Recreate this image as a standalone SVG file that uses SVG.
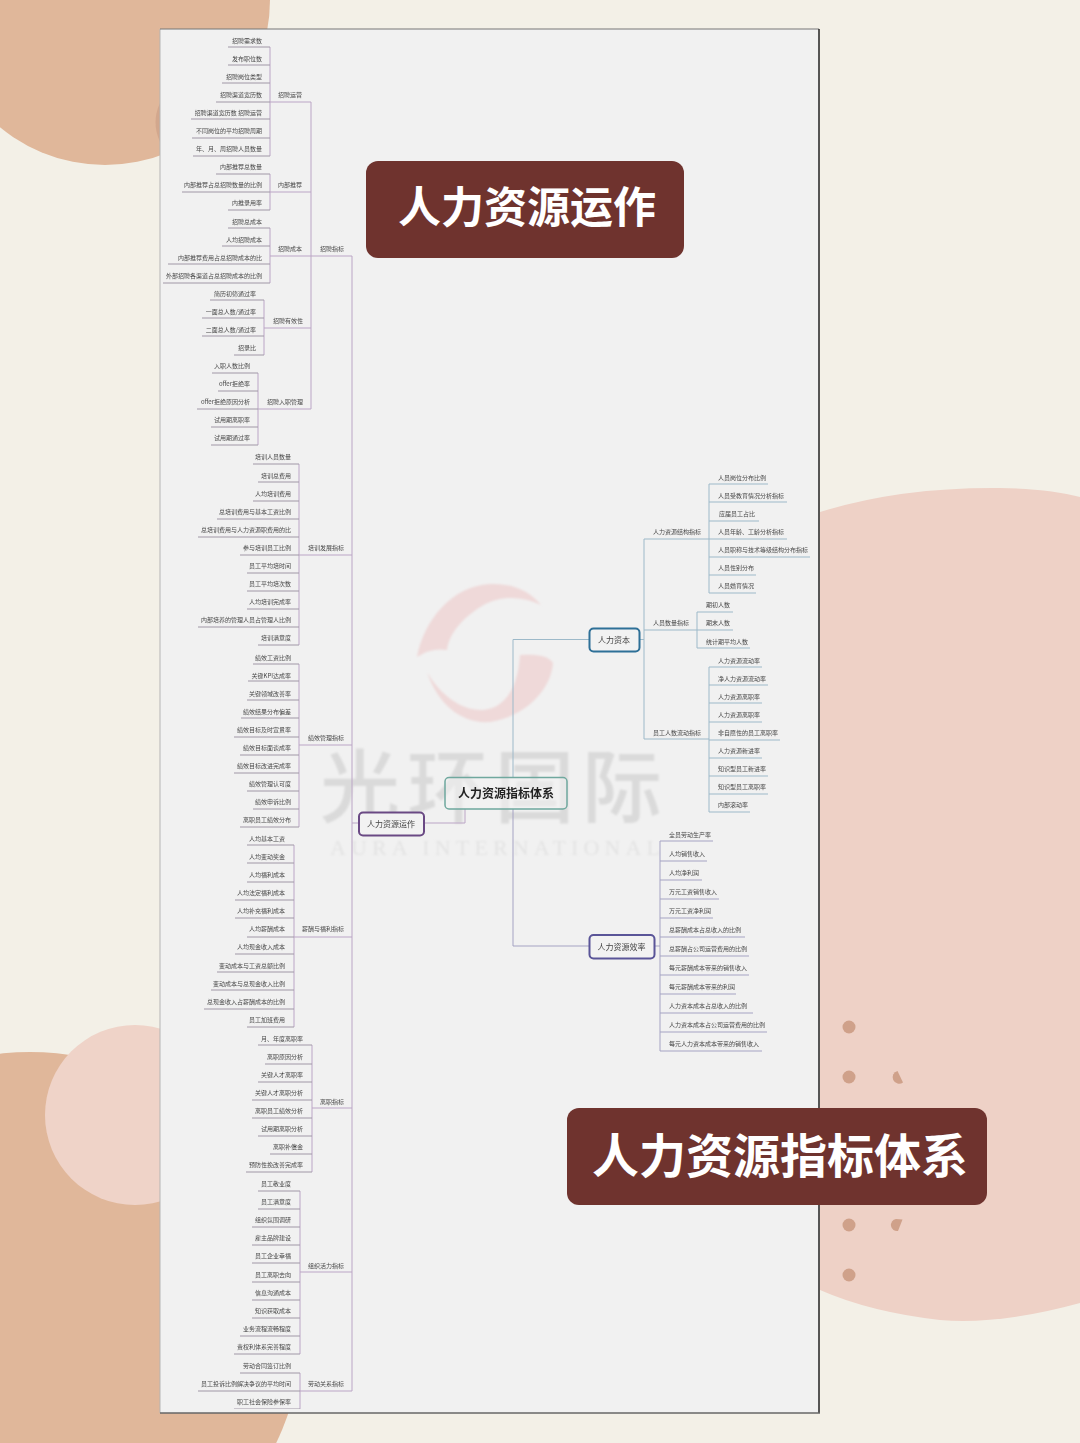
<svg xmlns="http://www.w3.org/2000/svg" width="1080" height="1443" viewBox="0 0 1080 1443">
<style>
text{font-family:"Noto Sans CJK SC","Noto Sans",sans-serif}
.l text{font-size:6px;fill:#484848}
.e{text-anchor:end}
.p{fill:none;stroke:#bba5c6;stroke-width:1}
.b{fill:none;stroke:#9db9c9;stroke-width:1}
.v{fill:none;stroke:#a5a3c3;stroke-width:1}
.u{fill:none;stroke:#a097a6;stroke-width:1}
.box{fill:#f2f2f2;stroke-width:2}
.t{font-size:8px;fill:#444;text-anchor:middle}
.card{fill:#6f332e}
.ct{fill:#fff;font-weight:700;text-anchor:middle}
.dot{fill:#cfa18a}
.wm{fill:#dadada;font-weight:500}
.logo{fill:#efd9d9}
</style>
<defs>
<filter id="soft" x="0" y="0" width="1" height="1"><feGaussianBlur stdDeviation="0.35"/></filter>
<filter id="wmblur" x="-0.05" y="-0.05" width="1.1" height="1.1"><feGaussianBlur stdDeviation="0.8"/></filter>
</defs>
<rect width="1080" height="1443" fill="#f3f0e7"/>
<circle cx="105" cy="0" r="165" fill="#e0b79a"/>
<path d="M160 103Q151 122 160 142Z" fill="#d2a78d"/>
<path d="M820 512Q900 487 1000 488Q1050 489 1080 497L1080 1303Q1000 1325 940 1320Q870 1312 820 1290Z" fill="#eed1c6"/>
<circle cx="30" cy="1325" r="273" fill="#e0b79a"/>
<circle cx="135" cy="1115" r="90" fill="#efd3c8"/>
<g id="dots">
<circle class="dot" cx="849" cy="1027" r="6.5"/><circle class="dot" cx="849" cy="1077" r="6.5"/><circle class="dot" cx="849" cy="1225" r="6.5"/><circle class="dot" cx="849" cy="1275" r="6.5"/>
<path class="dot" d="M897.5 1071L903 1082.5A6.5 6.5 0 1 1 897.500 1071Z"/><path class="dot" d="M902.500 1219.500L898 1231A6 6 0 0 1 896 1219Z"/>
</g>
<rect id="panel" x="160" y="29" width="659" height="1384" fill="#f1f1f1"/>
<path d="M160 1413V29" stroke="#b5b5b5" stroke-width="1" fill="none"/>
<path d="M160 29H819" stroke="#777" stroke-width="1" fill="none"/>
<path d="M819 29V1413" stroke="#222" stroke-width="1.500" fill="none"/>
<path d="M160 1413H820" stroke="#666" stroke-width="1.500" fill="none"/>
<g id="watermark" filter="url(#wmblur)">
<path class="logo" d="M417 657C424 620 452 586 490 584C512 583 530 591 541 605C522 596 500 595 482 606C462 618 449 634 447 650C436 648 426 651 417 657Z"/>
<path class="logo" d="M427 672C440 695 462 711 483 710C503 709 518 690 520 655C535 654 548 655 553 663C551 690 526 716 490 722C462 724 438 705 427 672Z"/>
<text class="wm" x="320" y="816" font-size="80" textLength="342">光环国际</text>
<text x="330" y="855" font-size="22" fill="#e3e3e3" textLength="330" style="font-family:'Liberation Serif',serif">AURA INTERNATIONAL</text>
</g>
<g filter="url(#soft)">
<g id="connectors">
<path class="p" d="M270 47V156M270 174V210M270 228V283M264 300V355M258 373V445M311 102V409M352 256V1391M299 464V645M299 664V827M294 845V1027M312 1045V1172M300 1191V1354M300 1373V1409"/>
<path class="p" d="M270 102H311M270 192H311M270 256H352M264 328H311M258 409H311M299 555H352M299 745H352M294 937H352M312 1108H352M300 1272H352M300 1391H352M352 823H359M424 823H465V809"/>
<path class="u" d="M228 47H270M228 65H270M222 83H270M216 102H270M191 119H270M192 138H270M193 156H270M216 174H270M182 192H270M228 210H270M228 228H270M222 246H270M168 264H270M163 283H270"/>
<path class="u" d="M210 300H264M202 318H264M202 336H264M234 355H264M212 373H258M218 391H258M197 409H258M211 427H258M211 445H258"/>
<path class="u" d="M253 464H299M258 482H299M253 501H299M217 519H299M198 537H299M240 555H299M247 573H299M247 591H299M247 609H299M198 627H299M258 645H299"/>
<path class="u" d="M253 664H299M248 681H299M247 700H299M241 718H299M234 737H299M240 755H299M234 773H299M247 791H299M253 809H299M240 827H299"/>
<path class="u" d="M247 845H294M247 863H294M247 882H294M235 900H294M235 918H294M247 937H294M235 954H294M217 972H294M211 990H294M204 1009H294M247 1027H294"/>
<path class="u" d="M258 1045H312M265 1064H312M258 1082H312M252 1100H312M252 1118H312M258 1136H312M270 1154H312M246 1172H312"/>
<path class="u" d="M258 1191H300M258 1209H300M252 1227H300M252 1245H300M252 1263H300M252 1282H300M252 1300H300M252 1318H300M240 1336H300M234 1354H300M240 1373H300M198 1391H300M234 1409H300"/>
<path class="b" d="M513 777V639.500H589M639 639.500H644M644 539V739M644 539H709M644 630H697M644 739H709M709 484V593M697 612V648M709 667V812"/>
<path class="b" d="M709 484H768M709 502H787M709 521H759M709 539H787M709 557H810M709 575H756M709 593H756M697 612H733M697 630H733M697 648H750M709 667H762M709 685H768M709 703H762M709 722H762M709 740H780M709 758H762M709 776H768M709 794H768M709 812H750"/>
<path class="v" d="M513 809V946H589M654 946H660M660 841V1051"/>
<path class="v" d="M660 841H713M660 861H707M660 880H702M660 899H719M660 918H713M660 937H745M660 956H749M660 975H749M660 994H736M660 1013H753M660 1032H767M660 1051H762"/>
</g>
<g class="l">
<g id="n1"><text class="e" x="262" y="43">招聘需求数</text></g>
<g id="n2"><text class="e" x="262" y="61">发布职位数</text></g>
<g id="n3"><text class="e" x="262" y="79">招聘岗位类型</text></g>
<g id="n4"><text class="e" x="262" y="97">招聘渠道宽历数</text></g>
<g id="n5"><text class="e" x="262" y="115">招聘渠道宽历数 招聘运营</text></g>
<g id="n6"><text class="e" x="262" y="133">不同岗位的平均招聘周期</text></g>
<g id="n7"><text class="e" x="262" y="151">年、月、周招聘人员数量</text></g>
<g id="n8"><text class="e" x="262" y="169">内部推荐总数量</text></g>
<g id="n9"><text class="e" x="262" y="187">内部推荐占总招聘数量的比例</text></g>
<g id="n10"><text class="e" x="262" y="205">内推录用率</text></g>
<g id="n11"><text class="e" x="262" y="224">招聘总成本</text></g>
<g id="n12"><text class="e" x="262" y="242">人均招聘成本</text></g>
<g id="n13"><text class="e" x="262" y="260">内部推荐费用占总招聘成本的比</text></g>
<g id="n14"><text class="e" x="262" y="278">外部招聘各渠道占总招聘成本的比例</text></g>
<g id="n15"><text x="278" y="97">招聘运营</text></g>
<g id="n16"><text x="278" y="187">内部推荐</text></g>
<g id="n17"><text x="278" y="251">招聘成本</text></g>
<g id="n18"><text x="320" y="251">招聘指标</text></g>
<g id="n19"><text class="e" x="256" y="296">简历初筛通过率</text></g>
<g id="n20"><text class="e" x="256" y="314">一面总人数/通过率</text></g>
<g id="n21"><text class="e" x="256" y="332">二面总人数/通过率</text></g>
<g id="n22"><text class="e" x="256" y="350">招录比</text></g>
<g id="n23"><text x="273" y="323">招聘有效性</text></g>
<g id="n24"><text class="e" x="250" y="368">入职人数比例</text></g>
<g id="n25"><text class="e" x="250" y="386">offer拒绝率</text></g>
<g id="n26"><text class="e" x="250" y="404">offer拒绝原因分析</text></g>
<g id="n27"><text class="e" x="250" y="422">试用期离职率</text></g>
<g id="n28"><text class="e" x="250" y="440">试用期通过率</text></g>
<g id="n29"><text x="267" y="404">招聘入职管理</text></g>
<g id="n30"><text class="e" x="291" y="459">培训人员数量</text></g>
<g id="n31"><text class="e" x="291" y="478">培训总费用</text></g>
<g id="n32"><text class="e" x="291" y="496">人均培训费用</text></g>
<g id="n33"><text class="e" x="291" y="514">总培训费用与基本工资比例</text></g>
<g id="n34"><text class="e" x="291" y="532">总培训费用与人力资源职费用的比</text></g>
<g id="n35"><text class="e" x="291" y="550">参与培训员工比例</text></g>
<g id="n36"><text class="e" x="291" y="568">员工平均培时间</text></g>
<g id="n37"><text class="e" x="291" y="586">员工平均培次数</text></g>
<g id="n38"><text class="e" x="291" y="604">人均培训完成率</text></g>
<g id="n39"><text class="e" x="291" y="622">内部培养的管理人员占管理人比例</text></g>
<g id="n40"><text class="e" x="291" y="640">培训满意度</text></g>
<g id="n41"><text x="308" y="550">培训发展指标</text></g>
<g id="n42"><text class="e" x="291" y="660">绩效工资比例</text></g>
<g id="n43"><text class="e" x="291" y="678">关键KPI达成率</text></g>
<g id="n44"><text class="e" x="291" y="696">关键领域改善率</text></g>
<g id="n45"><text class="e" x="291" y="714">绩效结果分布偏差</text></g>
<g id="n46"><text class="e" x="291" y="732">绩效目标及时宣贯率</text></g>
<g id="n47"><text class="e" x="291" y="750">绩效目标面谈成率</text></g>
<g id="n48"><text class="e" x="291" y="768">绩效目标改进完成率</text></g>
<g id="n49"><text class="e" x="291" y="786">绩效管理认可度</text></g>
<g id="n50"><text class="e" x="291" y="804">绩效申诉比例</text></g>
<g id="n51"><text class="e" x="291" y="822">离职员工绩效分布</text></g>
<g id="n52"><text x="308" y="740">绩效管理指标</text></g>
<g id="n53"><text class="e" x="285" y="841">人均基本工资</text></g>
<g id="n54"><text class="e" x="285" y="859">人均变动奖金</text></g>
<g id="n55"><text class="e" x="285" y="877">人均福利成本</text></g>
<g id="n56"><text class="e" x="285" y="895">人均法定福利成本</text></g>
<g id="n57"><text class="e" x="285" y="913">人均补充福利成本</text></g>
<g id="n58"><text class="e" x="285" y="931">人均薪酬成本</text></g>
<g id="n59"><text class="e" x="285" y="949">人均现金收入成本</text></g>
<g id="n60"><text class="e" x="285" y="968">变动成本与工资总额比例</text></g>
<g id="n61"><text class="e" x="285" y="986">变动成本与总现金收入比例</text></g>
<g id="n62"><text class="e" x="285" y="1004">总现金收入占薪酬成本的比例</text></g>
<g id="n63"><text class="e" x="285" y="1022">员工加班费用</text></g>
<g id="n64"><text x="302" y="931">薪酬与福利指标</text></g>
<g id="n65"><text class="e" x="303" y="1041">月、年度离职率</text></g>
<g id="n66"><text class="e" x="303" y="1059">离职原因分析</text></g>
<g id="n67"><text class="e" x="303" y="1077">关键人才离职率</text></g>
<g id="n68"><text class="e" x="303" y="1095">关键人才离职分析</text></g>
<g id="n69"><text class="e" x="303" y="1113">离职员工绩效分析</text></g>
<g id="n70"><text class="e" x="303" y="1131">试用期离职分析</text></g>
<g id="n71"><text class="e" x="303" y="1149">离职补偿金</text></g>
<g id="n72"><text class="e" x="303" y="1167">预防性挽改善完成率</text></g>
<g id="n73"><text x="320" y="1104">离职指标</text></g>
<g id="n74"><text class="e" x="291" y="1186">员工敬业度</text></g>
<g id="n75"><text class="e" x="291" y="1204">员工满意度</text></g>
<g id="n76"><text class="e" x="291" y="1222">组织氛围调研</text></g>
<g id="n77"><text class="e" x="291" y="1240">雇主品牌建设</text></g>
<g id="n78"><text class="e" x="291" y="1258">员工企业幸福</text></g>
<g id="n79"><text class="e" x="291" y="1277">员工离职去向</text></g>
<g id="n80"><text class="e" x="291" y="1295">信息沟通成本</text></g>
<g id="n81"><text class="e" x="291" y="1313">知识获取成本</text></g>
<g id="n82"><text class="e" x="291" y="1331">业务流程流畅程度</text></g>
<g id="n83"><text class="e" x="291" y="1349">责权利体系完善程度</text></g>
<g id="n84"><text x="308" y="1268">组织活力指标</text></g>
<g id="n85"><text class="e" x="291" y="1368">劳动合同签订比例</text></g>
<g id="n86"><text class="e" x="291" y="1386">员工投诉比例解决争议的平均时间</text></g>
<g id="n87"><text class="e" x="291" y="1404">职工社会保险参保率</text></g>
<g id="n88"><text x="308" y="1386">劳动关系指标</text></g>
<g id="n89"><text x="718" y="480">人员岗位分布比例</text></g>
<g id="n90"><text x="718" y="498">人员受教育情况分析指标</text></g>
<g id="n91"><text x="719" y="516">应届员工占比</text></g>
<g id="n92"><text x="718" y="534">人员年龄、工龄分析指标</text></g>
<g id="n93"><text x="718" y="552">人员职称与技术等级结构分布指标</text></g>
<g id="n94"><text x="718" y="570">人员性别分布</text></g>
<g id="n95"><text x="718" y="588">人员婚育情况</text></g>
<g id="n96"><text x="653" y="534">人力资源结构指标</text></g>
<g id="n97"><text x="706" y="607">期初人数</text></g>
<g id="n98"><text x="706" y="625">期末人数</text></g>
<g id="n99"><text x="706" y="644">统计期平均人数</text></g>
<g id="n100"><text x="653" y="625">人员数量指标</text></g>
<g id="n101"><text x="718" y="663">人力资源流动率</text></g>
<g id="n102"><text x="718" y="681">净人力资源流动率</text></g>
<g id="n103"><text x="718" y="699">人力资源离职率</text></g>
<g id="n104"><text x="718" y="717">人力资源离职率</text></g>
<g id="n105"><text x="718" y="735">非自愿性的员工离职率</text></g>
<g id="n106"><text x="718" y="753">人力资源新进率</text></g>
<g id="n107"><text x="718" y="771">知识型员工新进率</text></g>
<g id="n108"><text x="718" y="789">知识型员工离职率</text></g>
<g id="n109"><text x="718" y="807">内部滚动率</text></g>
<g id="n110"><text x="653" y="735">员工人数流动指标</text></g>
<g id="n111"><text x="669" y="837">全员劳动生产率</text></g>
<g id="n112"><text x="669" y="856">人均销售收入</text></g>
<g id="n113"><text x="669" y="875">人均净利润</text></g>
<g id="n114"><text x="669" y="894">万元工资销售收入</text></g>
<g id="n115"><text x="669" y="913">万元工资净利润</text></g>
<g id="n116"><text x="669" y="932">总薪酬成本占总收入的比例</text></g>
<g id="n117"><text x="669" y="951">总薪酬占公司运营费用的比例</text></g>
<g id="n118"><text x="669" y="970">每元薪酬成本带来的销售收入</text></g>
<g id="n119"><text x="669" y="989">每元薪酬成本带来的利润</text></g>
<g id="n120"><text x="669" y="1008">人力资本成本占总收入的比例</text></g>
<g id="n121"><text x="669" y="1027">人力资本成本占公司运营费用的比例</text></g>
<g id="n122"><text x="669" y="1046">每元人力资本成本带来的销售收入</text></g>
</g>
<g id="center"><rect x="445" y="777.500" width="122" height="31.500" rx="4" fill="#f2f2f2" fill-opacity="0.55" stroke="#6fa89e" stroke-width="1.500"/><text x="506" y="797.500" font-size="12" font-weight="700" fill="#222" text-anchor="middle">人力资源指标体系</text></g>
<g id="ops"><rect class="box" x="359" y="812.500" width="65" height="23" rx="4" stroke="#6a4a84"/><text class="t" x="391" y="826.500">人力资源运作</text></g>
<g id="capital"><rect class="box" x="589.500" y="628.500" width="50" height="23" rx="4" stroke="#2f6f97"/><text class="t" x="614" y="642.500">人力资本</text></g>
<g id="efficiency"><rect class="box" x="589.500" y="935" width="65" height="23.500" rx="4" stroke="#5a5498"/><text class="t" x="621.500" y="949.500">人力资源效率</text></g>
</g>
<g id="card1"><rect class="card" x="366" y="161" width="318" height="97" rx="12"/><text class="ct" x="527" y="223" font-size="43">人力资源运作</text></g>
<g id="card2"><rect class="card" x="567" y="1108" width="420" height="97" rx="12"/><text class="ct" x="780" y="1173" font-size="47">人力资源指标体系</text></g>
</svg>
